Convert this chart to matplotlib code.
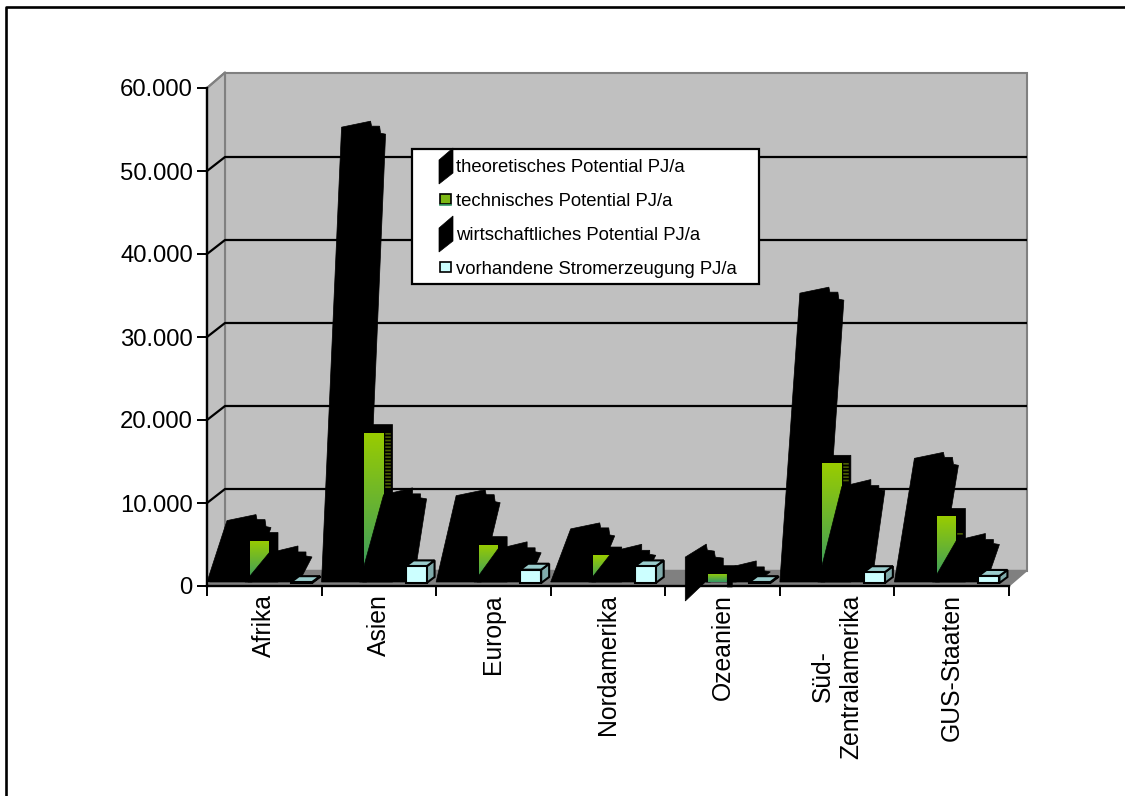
# -*- coding: utf-8 -*-
import numpy as np
import matplotlib
matplotlib.use('Agg')
import matplotlib.pyplot as plt
from matplotlib.patches import Polygon, Rectangle
from matplotlib.lines import Line2D

plt.rcParams['font.family'] = ['Liberation Sans', 'DejaVu Sans']

kategorien = ['Afrika', 'Asien', 'Europa', 'Nordamerika', 'Ozeanien',
              'Süd-\nZentralamerika', 'GUS-Staaten']
theoretisch = [7400, 54800, 10400, 6400, 3000, 34800, 14900]
technisch = [5000, 18000, 4500, 3250, 1000, 14300, 7900]
wirtschaftlich = [3500, 10500, 4000, 3700, 1700, 11500, 5000]
strom = [100, 2000, 1600, 2000, 100, 1300, 850]

y_ticks = [0, 10000, 20000, 30000, 40000, 50000, 60000]
y_labels = ['0', '10.000', '20.000', '30.000', '40.000', '50.000', '60.000']
legende = ['theoretisches Potential PJ/a', 'technisches Potential PJ/a',
           'wirtschaftliches Potential PJ/a', 'vorhandene Stromerzeugung PJ/a']

# Bereich der dunklen Seitenflaeche mit Rasterstreifen (von, bis)
streifen = {1: (18000, 11200), 5: (14300, 12000), 6: (5900, 5550)}

W, H = 1125, 796
X0, X1, Y0, Y1 = 207, 1009, 586, 88
TIEFE_X, TIEFE_Y = 18, 15.5
GITTER_Y = 14
PX_X = 7 / (X1 - X0)
PX_Y = 60000 / (Y0 - Y1)
BODEN = 4


def pt(kat, dx, wert=0, dy=0):
    return (kat + dx * PX_X, wert + (BODEN + dy) * PX_Y)


def fx(x):
    return x / W


def fy(y):
    return 1 - y / H


fig = plt.figure(figsize=(W / 100, H / 100), dpi=100)
ax = fig.add_axes([fx(X0), fy(Y0), (X1 - X0) / W, (Y0 - Y1) / H])
ax.patch.set_alpha(0)
ax.set_xlim(0, 7)
ax.set_ylim(0, 60000)

# Rahmen der Grafik, rechts und unten offen
fig.add_artist(Line2D([fx(6), fx(6), fx(W)], [0, fy(7), fy(7)], color='black', lw=1.9))


def wand_pt(x, y, dy=TIEFE_Y):
    return (x + TIEFE_X * PX_X, y + dy * PX_Y)


# Rueckwand, Seitenwand und Boden
ax.add_patch(Polygon([wand_pt(0, 0), wand_pt(7, 0), wand_pt(7, 60000), wand_pt(0, 60000)],
                     fc='#C0C0C0', ec='#808080', lw=1.5, clip_on=False, zorder=0))
ax.add_patch(Polygon([(0, 0), wand_pt(0, 0), wand_pt(0, 60000), (0, 60000)],
                     fc='#C0C0C0', ec='#808080', lw=1.5, clip_on=False, zorder=0))
ax.add_patch(Polygon([(0, 0), (7, 0), wand_pt(7, 0), wand_pt(0, 0)],
                     fc='#808080', ec='#808080', lw=1, clip_on=False, zorder=0))
for t in y_ticks[1:-1]:
    a, b = wand_pt(0, t, GITTER_Y), wand_pt(7, t, GITTER_Y)
    ax.plot([0, a[0], b[0]], [t, a[1], b[1]], color='black', lw=1.6, clip_on=False, zorder=1,
            solid_capstyle='butt')
a = wand_pt(0, 60000)
ax.plot([0, a[0]], [60000, a[1]], color='#808080', lw=1.5, clip_on=False, zorder=1)


def zacken(kat, basis, links, wert, stufen, ende, spitze=None):
    """Schwarze, schraeg verzerrte Saeule mit gestufter Oberkante."""
    punkte = [pt(kat, links, wert)]
    punkte += [pt(kat, links + u, wert, v) for u, v in stufen]
    punkte.append(pt(kat, ende, 0))
    if spitze is None:
        punkte.append(pt(kat, basis, 0))
    else:
        punkte += [pt(kat, u, 0, v) for u, v in spitze]
    return Polygon(punkte, fc='black', ec='black', lw=0.5, clip_on=False)


STUFEN_1 = [(29, 6), (30, 1), (38, 1), (39, -6), (44, -7)]
STUFEN_3 = [(29, 7), (29, 1), (37, 1), (37, -3), (43, -4)]
STUFEN_OZ = [(21, 13), (22, 7), (29, 6), (30, 0), (38, -1), (38, -9)]

z = 2
for i in range(len(kategorien)):
    # theoretisches Potential
    if i == 4:
        p = zacken(i, 0, 20, theoretisch[i], STUFEN_OZ, 45, spitze=[(40, 0), (20, -19)])
    else:
        p = zacken(i, 0, 20, theoretisch[i], STUFEN_1, 45)
    p.set_zorder(z)
    ax.add_patch(p)

    # technisches Potential: dunkler Koerper und Front mit Farbverlauf
    h = technisch[i]
    p = Polygon([pt(i, 41, h), pt(i, 47, h, 8), pt(i, 71, h, 8), pt(i, 71, 0), pt(i, 41, 0)],
                fc='black', ec='black', lw=0.5, clip_on=False, zorder=z + 0.1)
    ax.add_patch(p)
    x_l, y_o = pt(i, 42.5, h)
    x_r, y_u = pt(i, 62, 0)
    verlauf = np.array([[[0x99, 0xCC, 0x00]], [[0x33, 0x99, 0x66]]]) / 255
    verlauf = np.linspace(verlauf[0], verlauf[1], 64)
    bild = ax.imshow(verlauf, extent=(x_l, x_r, y_u, y_o), aspect='auto', origin='upper',
                     zorder=z + 0.2, clip_on=True)
    rand = Polygon([(x_l, y_u), (x_r, y_u), (x_r, y_o), (x_l, y_o)], transform=ax.transData)
    bild.set_clip_path(rand)
    if i in streifen:
        s = pt(i, 66, streifen[i][0]), pt(i, 66, streifen[i][1])
        ax.plot([s[0][0], s[1][0]], [s[0][1], s[1][1]], color='#4A5C00', lw=4,
                dashes=(0.3, 0.3), zorder=z + 0.3, solid_capstyle='butt')

    # wirtschaftliches Potential
    if i == 4:
        p = zacken(i, 38, 62, wirtschaftlich[i], STUFEN_3, 92, spitze=[(67, 0), (67, -5), (62, -5)])
    else:
        p = zacken(i, 38, 62, wirtschaftlich[i], STUFEN_3, 92)
    p.set_zorder(z + 0.4)
    ax.add_patch(p)

    # vorhandene Stromerzeugung als Quader
    v = strom[i]
    l, r, tx, ty = 84, 105, 8, 6
    vorn = [pt(i, l, 0, -1), pt(i, r, 0, -1), pt(i, r, v, -1), pt(i, l, v, -1)]
    oben = [pt(i, l, v, -1), pt(i, r, v, -1), pt(i, r + tx, v, ty - 1), pt(i, l + tx, v, ty - 1)]
    seite = [pt(i, r, 0, -1), pt(i, r + tx, 0, ty - 1), pt(i, r + tx, v, ty - 1), pt(i, r, v, -1)]
    for flaeche, farbe in ((seite, '#80ABAB'), (oben, '#99CCCC'), (vorn, '#CCFFFF')):
        ax.add_patch(Polygon(flaeche, fc=farbe, ec='black', lw=1.5, clip_on=False, zorder=z + 0.5))
    z += 1

# Achsen
for seite_name in ('top', 'right'):
    ax.spines[seite_name].set_visible(False)
for seite_name in ('left', 'bottom'):
    ax.spines[seite_name].set_linewidth(1.7)
    ax.spines[seite_name].set_zorder(50)
ax.set_yticks(y_ticks)
ax.set_yticklabels(y_labels, fontsize=17.2)
ax.tick_params(axis='y', length=7.2, width=1.4, pad=3)
ax.set_xticks(range(8))
ax.set_xticklabels([])
ax.tick_params(axis='x', which='major', length=7.2, width=1.4)
ax.set_xticks(np.arange(7) + 0.5, minor=True)
ax.set_xticklabels(kategorien, minor=True, rotation=90, fontsize=17.8,
                   ha='center', va='top', multialignment='center', linespacing=1.25)
ax.tick_params(axis='x', which='minor', length=0, pad=6)
ax.set_xlim(0, 7)
ax.set_ylim(0, 60000)

# Legende
fig.add_artist(Rectangle((fx(412), fy(284)), 347 / W, 135 / H, fc='white', ec='black', lw=1.6,
                         transform=fig.transFigure))
for text, y in zip(legende, [167, 201, 235, 269]):
    fig.text(fx(456), fy(y), text, fontsize=13.3, va='center', ha='left', color='black')
for y in (0, 68):
    fig.add_artist(Polygon([(fx(439), fy(160 + y)), (fx(453), fy(148 + y)), (fx(453), fy(173 + y)),
                            (fx(439), fy(184 + y))], fc='black', ec='black', lw=0.5,
                           transform=fig.transFigure))
fig.add_artist(Rectangle((fx(440), fy(204)), 11 / W, 10 / H, fc='#7DB814', ec='black', lw=1.2,
                         transform=fig.transFigure))
fig.add_artist(Line2D([fx(440), fx(451)], [fy(205), fy(205)], color='#339966', lw=1.2))
fig.add_artist(Rectangle((fx(440), fy(272)), 11 / W, 10 / H, fc='#CCFFFF', ec='black', lw=1.2,
                         transform=fig.transFigure))

fig.savefig('out.png', dpi=100)
